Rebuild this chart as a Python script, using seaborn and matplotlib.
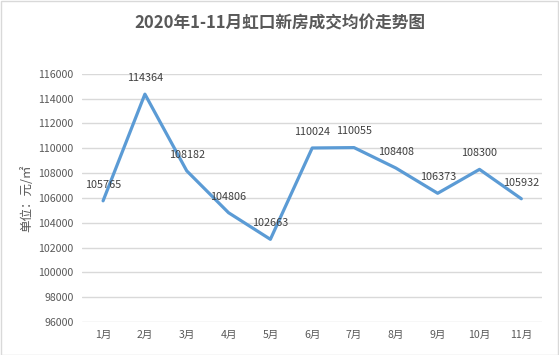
import numpy as np
import pandas as pd
import seaborn as sns
import matplotlib.pyplot as plt

months = ["1月", "2月", "3月", "4月", "5月", "6月", "7月", "8月", "9月", "10月", "11月"]
prices = [105765, 114364, 108182, 104806, 102663, 110024, 110055, 108408, 106373, 108300, 105932]
y_ticks = list(range(96000, 116001, 2000))

df = pd.DataFrame({"month": months, "price": prices})
df["x"] = np.arange(len(months))

sns.set_theme(style="white")
plt.rcParams["font.family"] = ["Noto Sans CJK SC", "DejaVu Sans"]

fig = plt.figure(figsize=(5.59, 3.55), dpi=100)
ax = fig.add_axes([0.147, 0.093, 0.823, 0.699])

sns.lineplot(data=df, x="x", y="price", ax=ax, color="#5B9BD5", linewidth=2.3)

for _, r in df.iterrows():
    ax.annotate(f"{r['price']}", (r["x"], r["price"]), xytext=(0, 8),
                textcoords="offset points", ha="center", va="bottom",
                fontsize=7.8, color="#404040")

ax.set_xlim(-0.5, len(months) - 0.5)
ax.set_ylim(96000, 116000)
ax.set_yticks(y_ticks)
ax.set_yticklabels([str(v) for v in y_ticks])
ax.set_xticks(df["x"])
ax.set_xticklabels(months)
ax.tick_params(axis="both", length=0, labelsize=7.6, colors="#595959", pad=6)
ax.yaxis.grid(True, color="#D9D9D9", linewidth=1)
ax.xaxis.grid(False)
for s in ax.spines.values():
    s.set_visible(False)
ax.set_xlabel("")
ax.set_ylabel("单位：元/㎡", fontsize=9, color="#595959", labelpad=4)

fig.text(0.5, 0.935, "2020年1-11月虹口新房成交均价走势图", ha="center", va="center",
         fontsize=12, fontweight="bold", color="#595959")

fig.patches.append(plt.Rectangle((0.001, 0.001), 0.997, 0.997, transform=fig.transFigure,
                                 fill=False, edgecolor="#D9D9D9", linewidth=1))

fig.savefig("out.png", dpi=100)
